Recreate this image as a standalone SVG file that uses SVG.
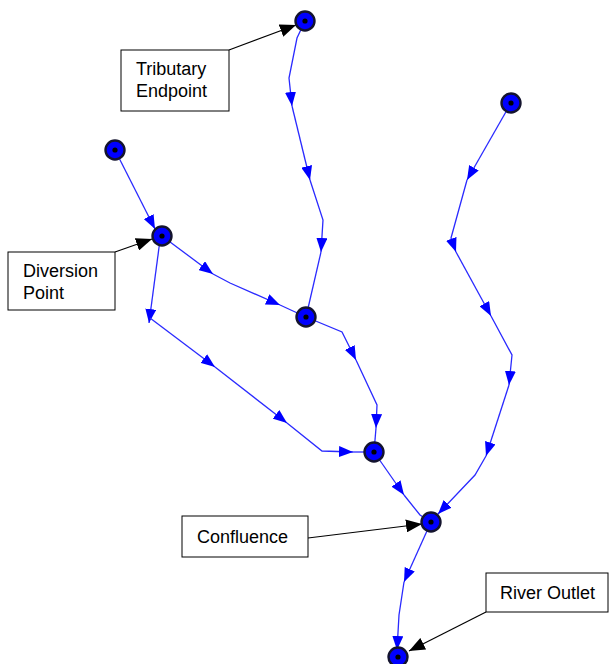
<svg xmlns="http://www.w3.org/2000/svg" width="610" height="664" viewBox="0 0 610 664">
<style>
.r{fill:none;stroke:#2a2aff;stroke-width:1.3;marker-end:url(#fa)}
.rn{fill:none;stroke:#2a2aff;stroke-width:1.3}
.n circle.o{fill:#0000ff;stroke:#14142e;stroke-width:2.4}
.n circle.d{fill:#000}
.box{fill:#fff;stroke:#000;stroke-width:1}
.t{font-family:"Liberation Sans",Arial,sans-serif;font-size:18px;fill:#000}
.c{fill:none;stroke:#000;stroke-width:1.2;marker-end:url(#ba)}
</style>
<defs>
<marker id="fa" markerUnits="userSpaceOnUse" markerWidth="14" markerHeight="11" viewBox="0 0 14 11" refX="14" refY="5.5" orient="auto"><path d="M0,0 L14,5.5 L0,11 z" fill="#0000ff"/></marker>
<marker id="ba" markerUnits="userSpaceOnUse" markerWidth="16" markerHeight="13" viewBox="0 0 16 13" refX="16" refY="6.5" orient="auto"><path d="M0,0 L16,6.5 L0,13 z" fill="#000"/></marker>
</defs>
<g id="connectors">
<path class="r" d="M305,21 L297,38 L289,78 L292,106"/>
<path class="r" d="M292,106 L310,180"/>
<path class="r" d="M310,180 L323,220 L321,252"/>
<path class="rn" d="M321,252 L306,317"/>
<path class="r" d="M115,150 L155,229"/>
<path class="r" d="M162,236 L213,274"/>
<path class="r" d="M213,274 L230,283 L280,305"/>
<path class="rn" d="M280,305 L306,317"/>
<path class="r" d="M160,240 L149,323"/>
<path class="r" d="M150,318 L215,367"/>
<path class="r" d="M215,367 L287,423"/>
<path class="r" d="M287,423 L322,451 L353,452"/>
<path class="rn" d="M353,452 L374,452"/>
<path class="r" d="M306,317 L342,332 L356,360"/>
<path class="r" d="M356,360 L377,405 L376,428"/>
<path class="rn" d="M376,428 L374,452"/>
<path class="r" d="M374,452 L404,495"/>
<path class="rn" d="M404,495 L420,515 L431,522"/>
<path class="r" d="M511,103 L467,180"/>
<path class="r" d="M467,180 L451,238 L456,252"/>
<path class="r" d="M456,252 L491,316"/>
<path class="r" d="M491,316 L512,355 L509,385"/>
<path class="r" d="M509,385 L486,456"/>
<path class="r" d="M486,456 L475,475 L438,514"/>
<path class="rn" d="M438,514 L431,522"/>
<path class="r" d="M431,522 L404,582"/>
<path class="r" d="M404,582 L399,615 L397,650"/>
<path class="c" d="M229,50 L296,25"/>
<path class="c" d="M115,252 L152,239"/>
<path class="c" d="M308,538 L422,524"/>
<path class="c" d="M486,612 L409,651"/>
</g>
<g id="n1" class="n"><circle class="o" cx="305" cy="21" r="9.5"/><circle class="d" cx="305" cy="21" r="2.6"/></g>
<g id="n2" class="n"><circle class="o" cx="511" cy="103" r="9.5"/><circle class="d" cx="511" cy="103" r="2.6"/></g>
<g id="n3" class="n"><circle class="o" cx="115" cy="150" r="9.5"/><circle class="d" cx="115" cy="150" r="2.6"/></g>
<g id="n4" class="n"><circle class="o" cx="162" cy="236" r="9.5"/><circle class="d" cx="162" cy="236" r="2.6"/></g>
<g id="n5" class="n"><circle class="o" cx="306" cy="317" r="9.5"/><circle class="d" cx="306" cy="317" r="2.6"/></g>
<g id="n6" class="n"><circle class="o" cx="374" cy="452" r="9.5"/><circle class="d" cx="374" cy="452" r="2.6"/></g>
<g id="n7" class="n"><circle class="o" cx="431" cy="522" r="9.5"/><circle class="d" cx="431" cy="522" r="2.6"/></g>
<g id="n8" class="n"><circle class="o" cx="398" cy="657" r="9.5"/><circle class="d" cx="398" cy="657" r="2.6"/></g>
<g id="tributary-endpoint"><rect class="box" x="121" y="50" width="108" height="61"/><text class="t" x="136" y="75">Tributary</text><text class="t" x="136" y="97">Endpoint</text></g>
<g id="diversion-point"><rect class="box" x="8" y="252" width="107" height="58"/><text class="t" x="23" y="277">Diversion</text><text class="t" x="23" y="299">Point</text></g>
<g id="confluence"><rect class="box" x="182" y="516" width="126" height="41"/><text class="t" x="197" y="543">Confluence</text></g>
<g id="river-outlet"><rect class="box" x="486" y="573" width="122" height="39"/><text class="t" x="500" y="599">River Outlet</text></g>
</svg>
